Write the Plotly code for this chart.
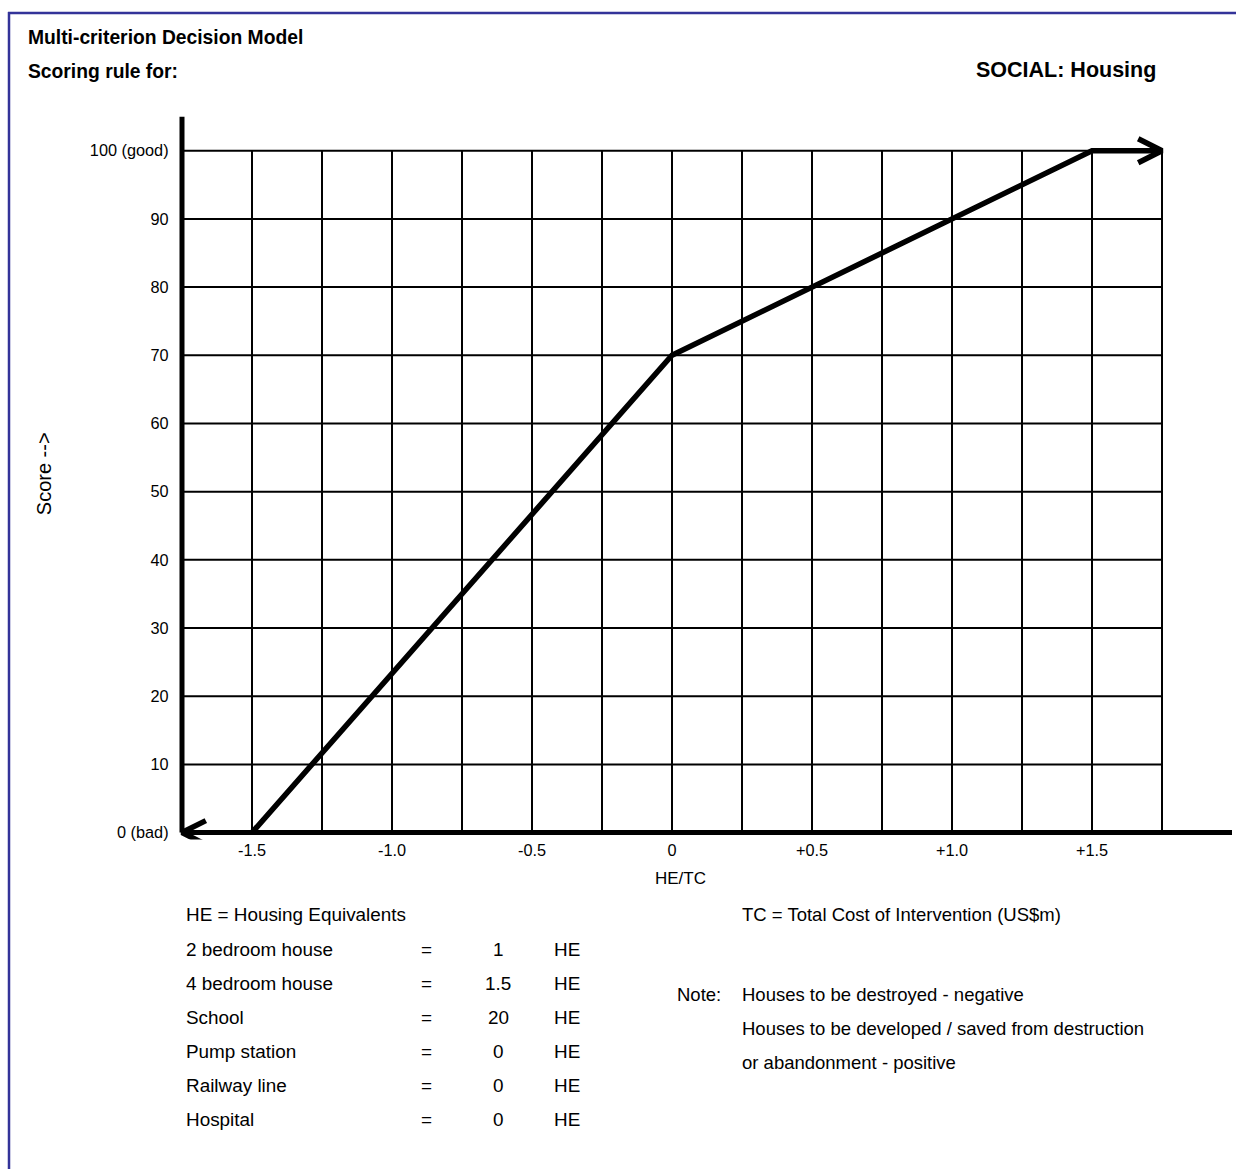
import plotly.graph_objects as go

# ---------------- data ----------------
score_x = [-1.5, 0.0, 1.5, 1.75]
score_y = [0, 70, 100, 100]

x_tickvals = [-1.5, -1.0, -0.5, 0.0, 0.5, 1.0, 1.5]
x_ticktext = ["-1.5", "-1.0", "-0.5", "0", "+0.5", "+1.0", "+1.5"]
y_tickvals = [0, 10, 20, 30, 40, 50, 60, 70, 80, 90, 100]
y_ticktext = ["0 (bad)", "10", "20", "30", "40", "50", "60", "70", "80", "90", "100 (good)"]

grid_x = [-1.5, -1.25, -1.0, -0.75, -0.5, -0.25, 0.0, 0.25, 0.5, 0.75, 1.0, 1.25, 1.5, 1.75]
grid_y = [10, 20, 30, 40, 50, 60, 70, 80, 90, 100]
x_min, x_max = -1.75, 2.0      # extent of x-axis line
y_min, y_max = 0, 105          # extent of y-axis line
grid_x_max, grid_y_max = 1.75, 100

he_items = ["2 bedroom house", "4 bedroom house", "School", "Pump station", "Railway line", "Hospital"]
he_values = ["1", "1.5", "20", "0", "0", "0"]
note_lines = ["Houses to be destroyed - negative",
              "Houses to be developed / saved from destruction",
              "or abandonment - positive"]

# ---------------- layout helpers ----------------
W, H = 1236, 1171
FONT = "Liberation Sans, Arial, sans-serif"
X_A, X_B = (-1.75, 182), (1.75, 1162)   # data -> pixel calibration
Y_A, Y_B = (0, 834), (100, 151)


def xpix(v):
    return X_A[1] + (v - X_A[0]) * (X_B[1] - X_A[1]) / (X_B[0] - X_A[0])


def ypix(v):
    return Y_A[1] + (v - Y_A[0]) * (Y_B[1] - Y_A[1]) / (Y_B[0] - Y_A[0])


XR = [-1.78, 2.01]
YR = [-1.0, 106.0]

fig = go.Figure()

# grid
gx, gy = [], []
for v in grid_x:
    gx += [v, v, None]
    gy += [0, grid_y_max, None]
for v in grid_y:
    gx += [x_min, grid_x_max, None]
    gy += [v, v, None]
fig.add_trace(go.Scatter(x=gx, y=gy, mode="lines", line=dict(color="black", width=2),
                         hoverinfo="skip", showlegend=False))

# axes lines
fig.add_trace(go.Scatter(x=[x_min, x_max], y=[0, 0], mode="lines",
                         line=dict(color="black", width=5), hoverinfo="skip", showlegend=False))
fig.add_trace(go.Scatter(x=[x_min, x_min], y=[y_min, y_max], mode="lines",
                         line=dict(color="black", width=5), hoverinfo="skip", showlegend=False))

# scoring curve
fig.add_trace(go.Scatter(x=score_x, y=score_y, mode="lines",
                         line=dict(color="black", width=5.5), showlegend=False))

# arrow heads (open chevrons) at both ends
ADX, ADY = 0.085, 1.75
tip_r = (score_x[-1], score_y[-1])
tip_l = (x_min, score_y[0])
ax_ = [tip_r[0] - ADX, tip_r[0], tip_r[0] - ADX, None, tip_l[0] + ADX, tip_l[0], tip_l[0] + ADX]
ay_ = [tip_r[1] + ADY, tip_r[1], tip_r[1] - ADY, None, tip_l[1] + ADY, tip_l[1], tip_l[1] - ADY]
fig.add_trace(go.Scatter(x=ax_, y=ay_, mode="lines", line=dict(color="black", width=5.5),
                         hoverinfo="skip", showlegend=False))

ann = []


def text(px, py, t, size=18.5, bold=False, xanchor="left", angle=0):
    if bold:
        t = "<b>" + t + "</b>"
    ann.append(dict(x=px / W, y=1 - py / H, xref="paper", yref="paper", text=t,
                    showarrow=False, xanchor=xanchor, yanchor="middle", textangle=angle,
                    font=dict(family=FONT, size=size, color="black")))


text(26, 38, "Multi-criterion Decision Model", 19.3, True)
text(26, 72, "Scoring rule for:", 19.3, True)
text(1158, 70, "SOCIAL: Housing", 21.5, True, xanchor="right")
text(44, 475, "Score -->", 20, xanchor="center", angle=-90)
text(680, 880, "HE/TC", 17, xanchor="center")

text(184, 916, "HE = Housing Equivalents", 18.9)
for i, (name, val) in enumerate(zip(he_items, he_values)):
    yy = 951 + i * 34
    text(184, yy, name, 18.9)
    text(427, yy, "=", 18.9, xanchor="center")
    text(498, yy, val, 18.9, xanchor="center")
    text(567, yy, "HE", 18.9, xanchor="center")

text(740, 916, "TC = Total Cost of Intervention (US$m)")
text(675, 996, "Note:")
for i, ln in enumerate(note_lines):
    text(740, 996 + i * 34, ln)

# border (navy) top and left
NAVY = "#333399"
shapes = [
    dict(type="line", xref="paper", yref="paper", x0=8 / W, x1=1.0, y0=1 - 13 / H, y1=1 - 13 / H,
         line=dict(color=NAVY, width=2.5)),
    dict(type="line", xref="paper", yref="paper", x0=9 / W, x1=9 / W, y0=1 - 12 / H, y1=0,
         line=dict(color=NAVY, width=2.5)),
]

fig.update_layout(
    width=W, height=H, margin=dict(l=0, r=0, t=0, b=0),
    paper_bgcolor="white", plot_bgcolor="white",
    annotations=ann, shapes=shapes, showlegend=False,
    font=dict(family=FONT, color="black"),
    xaxis=dict(range=XR, domain=[xpix(XR[0]) / W, xpix(XR[1]) / W],
               tickvals=x_tickvals, ticktext=x_ticktext, ticks="", showgrid=False,
               zeroline=False, showline=False, tickfont=dict(family=FONT, size=16.3, color="black"),
               ticklabelstandoff=-1, fixedrange=True),
    yaxis=dict(range=YR, domain=[1 - ypix(YR[0]) / H, 1 - ypix(YR[1]) / H],
               tickvals=y_tickvals, ticktext=y_ticktext, ticks="", showgrid=False,
               zeroline=False, showline=False, tickfont=dict(family=FONT, size=16.3, color="black"),
               ticklabelstandoff=4, fixedrange=True),
)

fig.write_html("out.html", config={"displayModeBar": False},
               post_script="document.body.style.margin='0';document.body.style.overflow='hidden';")
